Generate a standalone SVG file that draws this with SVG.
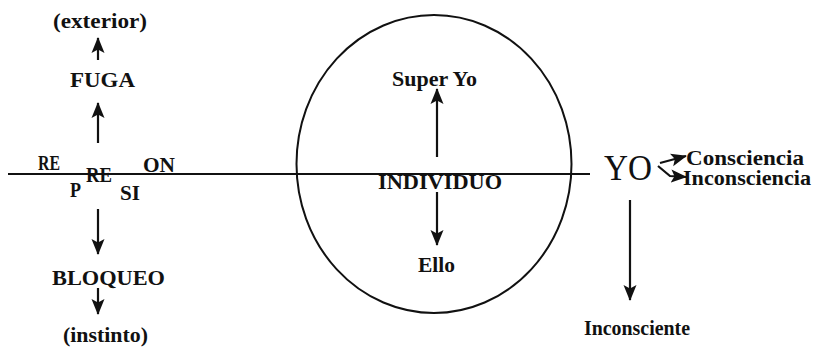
<svg xmlns="http://www.w3.org/2000/svg" width="817" height="352" viewBox="0 0 817 352">
<style>
.t{font-family:"Liberation Serif","Times New Roman",serif;font-weight:bold;font-size:22px;fill:#111}
.s{font-size:21px}
.r{font-size:20px}
.yo{font-family:"Liberation Serif","Times New Roman",serif;font-weight:normal;font-size:36px;fill:#111}
.c{fill:none;stroke:#111;stroke-width:2}
.a{fill:none;stroke:#111;stroke-width:2.2}
</style>
<defs>
<marker id="ah" markerUnits="userSpaceOnUse" markerWidth="16" markerHeight="16" viewBox="0 0 16 16" refX="15" refY="8" orient="auto">
<path d="M0,1.5 L16,8 L0,14.5 L3.5,8 Z" fill="#111"/>
</marker>
</defs>
<rect width="817" height="352" fill="#fff"/>
<g id="axis"><line x1="8" y1="174" x2="590" y2="174" class="c"/></g>
<g id="individuo-circle"><ellipse cx="434" cy="164" rx="137.5" ry="149" class="c"/></g>
<g id="exterior"><text class="t" x="53" y="28" textLength="94" lengthAdjust="spacingAndGlyphs">(exterior)</text></g>
<g id="fuga"><text class="t" x="70" y="87" textLength="65" lengthAdjust="spacingAndGlyphs">FUGA</text></g>
<g id="represion">
<text class="t s" x="38" y="170" textLength="22" lengthAdjust="spacingAndGlyphs">RE</text>
<text class="t s" x="70" y="197" textLength="11" lengthAdjust="spacingAndGlyphs">P</text>
<text class="t s" x="86" y="182" textLength="26" lengthAdjust="spacingAndGlyphs">RE</text>
<text class="t s" x="143" y="172" textLength="32" lengthAdjust="spacingAndGlyphs">ON</text>
<text class="t s" x="120" y="200" textLength="20" lengthAdjust="spacingAndGlyphs">SI</text>
</g>
<g id="bloqueo"><text class="t" x="52" y="285" textLength="113" lengthAdjust="spacingAndGlyphs">BLOQUEO</text></g>
<g id="instinto"><text class="t" x="63" y="342" textLength="85" lengthAdjust="spacingAndGlyphs">(instinto)</text></g>
<g id="superyo"><text class="t" x="392" y="86" textLength="85" lengthAdjust="spacingAndGlyphs">Super Yo</text></g>
<g id="individuo"><text class="t" x="378" y="189" textLength="124" lengthAdjust="spacingAndGlyphs">INDIVIDUO</text></g>
<g id="ello"><text class="t" x="418" y="272" textLength="37" lengthAdjust="spacingAndGlyphs">Ello</text></g>
<g id="yo"><text class="yo" x="604" y="180" textLength="48" lengthAdjust="spacingAndGlyphs">YO</text></g>
<g id="consciencia"><text class="t r" x="686" y="165" textLength="118" lengthAdjust="spacingAndGlyphs">Consciencia</text></g>
<g id="inconsciencia"><text class="t r" x="683" y="185" textLength="128" lengthAdjust="spacingAndGlyphs">Inconsciencia</text></g>
<g id="inconsciente"><text class="t" x="584" y="335" textLength="106" lengthAdjust="spacingAndGlyphs">Inconsciente</text></g>
<g id="connectors">
<line x1="98" y1="60" x2="98" y2="38" class="a" marker-end="url(#ah)"/>
<line x1="98" y1="143" x2="98" y2="103" class="a" marker-end="url(#ah)"/>
<line x1="98" y1="209" x2="98" y2="254" class="a" marker-end="url(#ah)"/>
<line x1="98" y1="288" x2="98" y2="314" class="a" marker-end="url(#ah)"/>
<line x1="437" y1="157" x2="437" y2="89" class="a" marker-end="url(#ah)"/>
<line x1="437" y1="192" x2="437" y2="245" class="a" marker-end="url(#ah)"/>
<line x1="630" y1="200" x2="630" y2="300" class="a" marker-end="url(#ah)"/>
<line x1="660" y1="163" x2="686" y2="156" class="a" marker-end="url(#ah)"/>
<polyline points="658,166 670,176 686,177" class="a" marker-end="url(#ah)"/>
</g>
</svg>
